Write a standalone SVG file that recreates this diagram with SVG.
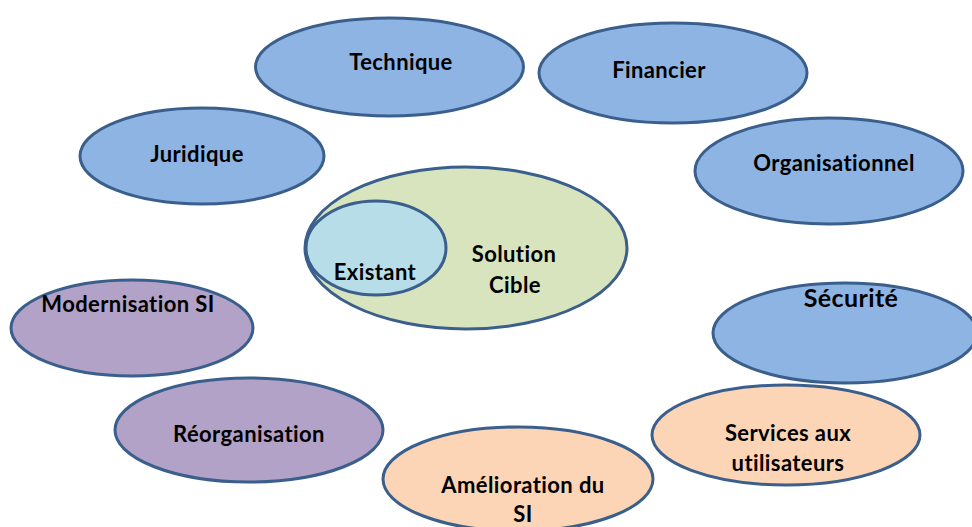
<svg xmlns="http://www.w3.org/2000/svg" width="972" height="527" viewBox="0 0 972 527">
<style>
ellipse{stroke:#3b5f8c;stroke-width:3}
.b{fill:#8eb4e3}.g{fill:#d7e4bd}.c{fill:#b7dee8}.p{fill:#b3a2c7}.o{fill:#fbd5b5}
text{font-family:Lato,"Open Sans",sans-serif;font-weight:bold;font-size:22px;letter-spacing:0.4px;fill:#000;text-anchor:middle}
</style>
<rect width="972" height="527" fill="#fff"/>
<g id="connectors"/>
<g id="technique"><ellipse class="b" cx="389.5" cy="67" rx="134" ry="49"/><text x="401" y="70">Technique</text></g>
<g id="financier"><ellipse class="b" cx="673" cy="73" rx="134" ry="50"/><text x="659" y="78">Financier</text></g>
<g id="juridique"><ellipse class="b" cx="202" cy="156" rx="122" ry="48"/><text x="197" y="162">Juridique</text></g>
<g id="organisationnel"><ellipse class="b" cx="829" cy="171" rx="134" ry="53"/><text x="834" y="171">Organisationnel</text></g>
<g id="solution"><ellipse class="g" cx="466" cy="248" rx="161" ry="81"/><text x="514" y="262">Solution</text><text x="515" y="293">Cible</text></g>
<g id="existant"><ellipse class="c" cx="376" cy="248" rx="70" ry="47"/><text x="375" y="280">Existant</text></g>
<g id="modernisation"><ellipse class="p" cx="132" cy="328" rx="121" ry="48"/><text x="128" y="312">Modernisation SI</text></g>
<g id="securite"><ellipse class="b" cx="845" cy="333" rx="132" ry="50"/><text x="851" y="307" style="font-size:25px">Sécurité</text></g>
<g id="services"><ellipse class="o" cx="786" cy="435" rx="134" ry="50"/><text x="788" y="441">Services aux</text><text x="788" y="471">utilisateurs</text></g>
<g id="reorganisation"><ellipse class="p" cx="249" cy="430" rx="134" ry="52"/><text x="249" y="442">Réorganisation</text></g>
<g id="amelioration"><ellipse class="o" cx="518" cy="479" rx="135" ry="52"/><text x="523" y="493">Amélioration du</text><text x="523" y="522">SI</text></g>
</svg>
